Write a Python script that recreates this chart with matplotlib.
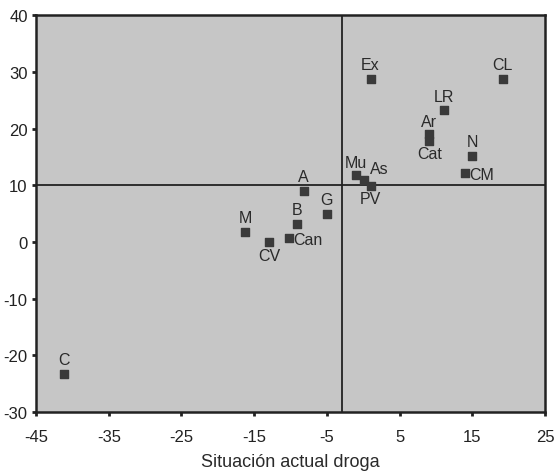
import numpy as np
import matplotlib
matplotlib.use("Agg")
import matplotlib.pyplot as plt

plt.rcParams['font.family'] = ['Liberation Sans', 'DejaVu Sans']
plt.rcParams['axes.unicode_minus'] = False

# comunidades: etiqueta, situacion actual (x), eje y
labels = ['C', 'M', 'CV', 'Can', 'B', 'A', 'G', 'Mu', 'As', 'PV',
          'Ex', 'CL', 'LR', 'Ar', 'Cat', 'N', 'CM']
x_vals = [-41.1, -16.2, -12.9, -10.2, -9.1, -8.2, -5.0, -1.0, 0.1, 1.0,
          1.0, 19.2, 11.1, 9.1, 9.1, 15.0, 14.0]
y_vals = [-23.3, 1.8, 0.0, 0.7, 3.2, 9.0, 4.9, 11.8, 10.9, 9.9,
          28.7, 28.7, 23.2, 19.0, 17.9, 15.1, 12.1]

x_ticks = [-45, -35, -25, -15, -5, 5, 15, 25]
y_ticks = [-30, -20, -10, 0, 10, 20, 30, 40]
ref_x = -2.9
ref_y = 10

# where each label sits relative to its marker (offset in points, ha, va)
pos = {
    'C': (0, 5, 'center', 'bottom'),
    'M': (0, 5, 'center', 'bottom'),
    'CV': (0, -4, 'center', 'top'),
    'Can': (3, -1, 'left', 'center'),
    'B': (0, 5, 'center', 'bottom'),
    'A': (0, 5, 'center', 'bottom'),
    'G': (0, 5, 'center', 'bottom'),
    'Mu': (0, 4, 'center', 'bottom'),
    'As': (4, 3, 'left', 'bottom'),
    'PV': (0, -4, 'center', 'top'),
    'Ex': (0, 5, 'center', 'bottom'),
    'CL': (0, 5, 'center', 'bottom'),
    'LR': (0, 5, 'center', 'bottom'),
    'Ar': (0, 4, 'center', 'bottom'),
    'Cat': (0, -4, 'center', 'top'),
    'N': (0, 5, 'center', 'bottom'),
    'CM': (3, -1, 'left', 'center'),
}

fig = plt.figure(figsize=(5.55, 4.77), dpi=100)
ax = fig.add_axes([0.065, 0.134, 0.917, 0.832])
ax.set_facecolor('#c6c6c6')

ax.axvline(ref_x, color='#222222', lw=1.3, zorder=1)
ax.axhline(ref_y, color='#222222', lw=1.3, zorder=1)

ax.scatter(x_vals, y_vals, marker='s', s=30, color='#3a3a3a', zorder=3)

for lab, xv, yv in zip(labels, x_vals, y_vals):
    dx, dy, ha, va = pos[lab]
    ax.annotate(lab, (xv, yv), xytext=(dx, dy), textcoords='offset points',
                ha=ha, va=va, fontsize=11.5, color='#2a2a2a', zorder=4)

ax.set_xlim(-45, 25)
ax.set_ylim(-30, 40)
ax.set_xticks(x_ticks)
ax.set_yticks(y_ticks)
ax.tick_params(labelsize=12, colors='#222222', length=3, width=2, direction='out')
ax.tick_params(axis='x', pad=9)
ax.tick_params(axis='y', pad=3)
for sp in ax.spines.values():
    sp.set_color('#222222')
    sp.set_linewidth(1.8)

ax.set_xlabel('Situación actual droga', fontsize=13, color='#2a2a2a', labelpad=7)

fig.savefig('out.png', dpi=100)
